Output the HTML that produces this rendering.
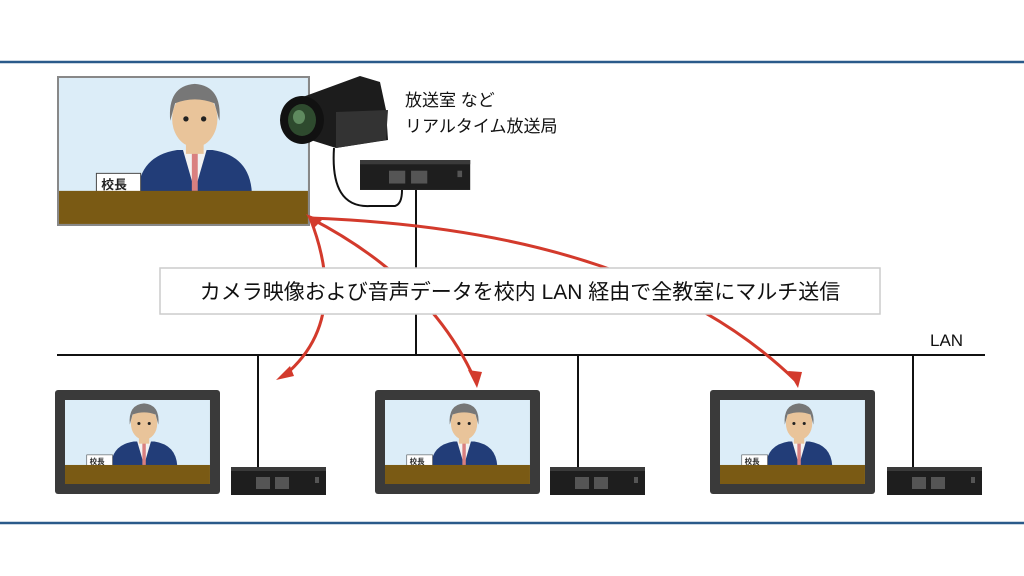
<!DOCTYPE html>
<html><head><meta charset="utf-8"><style>
html,body{margin:0;padding:0;background:#fff;width:1024px;height:576px;overflow:hidden}
svg{display:block}
text{font-family:"Liberation Sans","Noto Sans CJK JP",sans-serif}
</style></head><body>
<svg width="1024" height="576" viewBox="0 0 1024 576" xmlns="http://www.w3.org/2000/svg">
<defs>
<g id="scene">
 <rect x="0" y="0" width="253" height="150" fill="#dcedf8"/>
 <path d="M80 118 Q82 80 120 74 L156 74 Q194 80 196 118 Z" fill="#223d78"/>
 <path d="M126 74 L138 116 L150 74 Z" fill="#f2f2f2"/>
 <rect x="135" y="76" width="6" height="40" fill="#d98080"/>
 <rect x="129" y="56" width="18" height="22" fill="#e9c49a"/>
 <ellipse cx="138" cy="42" rx="23" ry="29" fill="#e9c49a"/>
 <path d="M113 44 Q110 8 138 6 Q166 8 163 44 L158 26 Q138 18 118 26 Z" fill="#777"/>
 <circle cx="129" cy="42" r="2.7" fill="#222"/><circle cx="147" cy="42" r="2.7" fill="#222"/>
 <rect x="38" y="98" width="45" height="20" fill="#fff" stroke="#444"/>
 <text x="43" y="114" font-size="13" font-weight="bold" fill="#222">校長</text>
 <rect x="0" y="116" width="253" height="34" fill="#7a5a14"/>
</g>
<g id="tv">
 <rect x="0" y="0" width="165" height="104" rx="3" fill="#3a3a3a"/>
 <g transform="translate(10,10) scale(0.573,0.56)"><use href="#scene"/></g>
</g>
<g id="sw">
 <rect x="0" y="0" width="95" height="28" fill="#1e1e1e"/>
 <rect x="0" y="0" width="95" height="4" fill="#3a3a3a"/>
 <g fill="#555"><rect x="25" y="10" width="14" height="12"/><rect x="44" y="10" width="14" height="12"/><rect x="84" y="10" width="4" height="6"/></g>
</g>
</defs>
<line x1="0" y1="62" x2="1024" y2="62" stroke="#2a5a8a" stroke-width="2.5"/>
<line x1="0" y1="523" x2="1024" y2="523" stroke="#2a5a8a" stroke-width="2.5"/>

<rect x="57" y="76" width="253" height="150" fill="#888"/>
<g transform="translate(59,78) scale(0.984,0.973)"><use href="#scene"/></g>

<!-- camera cable -->
<path d="M334 148 Q330 208 370 206 L395 206 Q402 204 402 190" fill="none" stroke="#111" stroke-width="2"/>
<g>
 <path d="M300 98 L360 76 L380 82 L386 110 L388 140 L336 148 L298 136 Z" fill="#1c1c1c"/>
 <path d="M336 112 L388 110 L386 140 L336 148 Z" fill="#333"/>
 <ellipse cx="302" cy="120" rx="22" ry="24" fill="#111"/>
 <ellipse cx="302" cy="120" rx="14" ry="16" fill="#2e4a2e"/>
 <ellipse cx="299" cy="117" rx="6" ry="7" fill="#5f8a5f"/>
</g>
<g transform="translate(360,160) scale(1.16,1.07)"><use href="#sw"/></g>
<text x="405" y="106" font-size="17" fill="#111">放送室 など</text>
<text x="405" y="132" font-size="17" fill="#111">リアルタイム放送局</text>

<line x1="416" y1="190" x2="416" y2="355" stroke="#111" stroke-width="2"/>
<line x1="57" y1="355" x2="985" y2="355" stroke="#111" stroke-width="2"/>
<text x="930" y="346" font-size="17" fill="#111">LAN</text>
<line x1="258" y1="355" x2="258" y2="468" stroke="#111" stroke-width="2"/>
<line x1="578" y1="355" x2="578" y2="468" stroke="#111" stroke-width="2"/>
<line x1="913" y1="355" x2="913" y2="468" stroke="#111" stroke-width="2"/>

<g fill="none" stroke="#d33a2c" stroke-width="3">
 <path d="M310 218 Q350 320 285 375"/>
 <path d="M310 218 Q430 280 475 380"/>
 <path d="M310 218 Q640 230 795 380"/>
</g>
<g fill="#d33a2c">
 <polygon points="276,380 290,366 294,376"/>
 <polygon points="477,388 468,370 482,372"/>
 <polygon points="798,388 788,371 802,372"/>
 <polygon points="306,214 322,220 314,228"/>
</g>

<rect x="160" y="268" width="720" height="46" fill="#fff" stroke="#ccc" stroke-width="1.5"/>
<text x="520" y="299" font-size="21" fill="#111" text-anchor="middle">カメラ映像および音声データを校内 LAN 経由で全教室にマルチ送信</text>

<g transform="translate(55,390)"><use href="#tv"/></g>
<g transform="translate(375,390)"><use href="#tv"/></g>
<g transform="translate(710,390)"><use href="#tv"/></g>
<g transform="translate(231,467)"><use href="#sw"/></g>
<g transform="translate(550,467)"><use href="#sw"/></g>
<g transform="translate(887,467)"><use href="#sw"/></g>
</svg>
</body></html>
